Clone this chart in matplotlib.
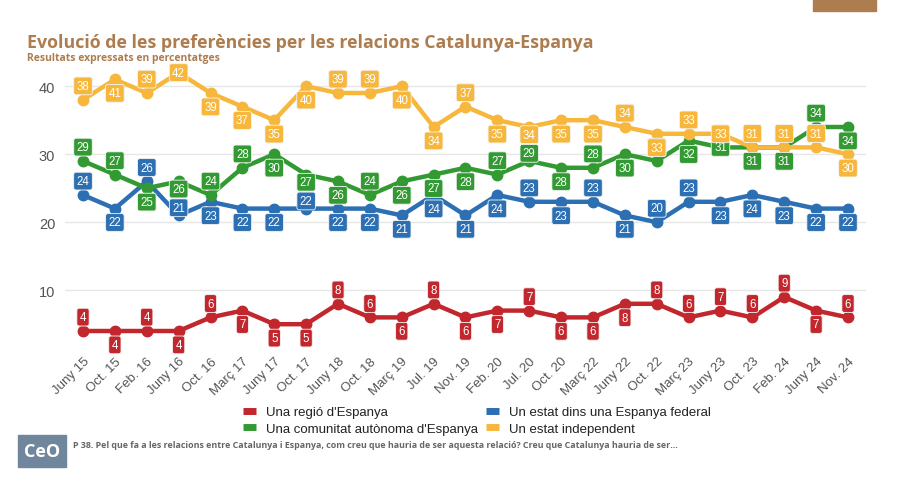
"""Evolució de les preferències per les relacions Catalunya-Espanya."""

import matplotlib
matplotlib.use('Agg')
import matplotlib.pyplot as plt
from matplotlib.lines import Line2D
from matplotlib.patches import Rectangle

# Data
periods = ["Juny 15", "Oct. 15", "Feb. 16", "Juny 16", "Oct. 16", "Març 17", "Juny 17",
           "Oct. 17", "Juny 18", "Oct. 18", "Març 19", "Jul. 19", "Nov. 19", "Feb. 20",
           "Jul. 20", "Oct. 20", "Març 22", "Juny 22", "Oct. 22", "Març 23", "Juny 23",
           "Oct. 23", "Feb. 24", "Juny 24", "Nov. 24"]
regio = [4, 4, 4, 4, 6, 7, 5, 5, 8, 6, 6, 8, 6, 7, 7, 6, 6, 8, 8, 6, 7, 6, 9, 7, 6]
comunitat = [29, 27, 25, 26, 24, 28, 30, 27, 26, 24, 26, 27, 28, 27, 29, 28, 28, 30, 29,
             32, 31, 31, 31, 34, 34]
federal = [24, 22, 26, 21, 23, 22, 22, 22, 22, 22, 21, 24, 21, 24, 23, 23, 23, 21, 20,
           23, 23, 24, 23, 22, 22]
independent = [38, 41, 39, 42, 39, 37, 35, 40, 39, 39, 40, 34, 37, 35, 34, 35, 35, 34, 33,
               33, 33, 31, 31, 31, 30]

# Label placement: u/d = above/below, n/m = closer above/below, c = on the point
regio_side = "u d u d u  d d d u u  d u d d u  d d d u u  u u u d u".split()
comunitat_side = "u u d m u  u d m d u  d d d u n  d u d u d  c d d u d".split()
federal_side = "u d u n d  d d n d d  d d d d u  d u d u u  d d d d d".split()
independent_side = "u d u c d  d d d u u  d d u d m  d d u d u  c u u u d".split()
LABEL_OFFSET = {"u": 10, "d": -10, "n": 5.5, "m": -5.5, "c": 0}

COLORS = {
    "regio": "#c1272d",
    "comunitat": "#339a33",
    "federal": "#2c6fb2",
    "independent": "#f6b73c",
    "grid": "#e6e6e6",
    "text": "#555555",
    "brown": "#ad7c4f",
}

fig = plt.figure(figsize=(9, 4.85), dpi=100)
ax = fig.add_axes([65 / 900, 1 - 349 / 485, 801 / 900, 285.6 / 485])

x = list(range(len(periods)))
series = [
    (regio, COLORS["regio"], regio_side),
    (federal, COLORS["federal"], federal_side),
    (comunitat, COLORS["comunitat"], comunitat_side),
    (independent, COLORS["independent"], independent_side),
]

for values, color, sides in series:
    ax.plot(x, values, color=color, lw=3.2, marker='o', ms=7.5, zorder=3)
for values, color, sides in series:
    for i, v in enumerate(values):
        ax.annotate(str(v), (i, v), xytext=(0, LABEL_OFFSET[sides[i]]),
                    textcoords='offset points',
                    ha='center', va='center', fontsize=8.3, color='white',
                    family='Liberation Sans', zorder=5,
                    bbox=dict(boxstyle='round,pad=0.25,rounding_size=0.2',
                              fc=color, ec='#f4f4f4', lw=0.6))

ax.set_xlim(-0.565, len(periods) - 1 + 0.565)
ax.set_ylim(1.5, 43.5)
ax.set_yticks([10, 20, 30, 40])
ax.yaxis.grid(True, color=COLORS["grid"], linewidth=1)
ax.set_axisbelow(True)
for spine in ax.spines.values():
    spine.set_visible(False)
ax.tick_params(axis='both', length=0, colors=COLORS["text"])
ax.tick_params(axis='y', labelsize=10.5, pad=7)
ax.set_xticks(x)
ax.set_xticklabels(periods, rotation=45, ha='right', va='top', rotation_mode='anchor',
                   fontsize=9.5, family='Liberation Sans', color=COLORS["text"])
ax.tick_params(axis='x', pad=5)
for lab in ax.get_yticklabels():
    lab.set_family('Liberation Sans')

# Title
fig.text(27 / 900, 1 - 43 / 485, "Evolució de les preferències per les relacions Catalunya-Espanya",
         fontsize=12.8, fontweight='bold', family='Open Sans', color=COLORS["brown"],
         va='center', ha='left')
fig.text(27 / 900, 1 - 58.5 / 485, "Resultats expressats en percentatges",
         fontsize=7.5, fontweight='bold', family='Open Sans', color=COLORS["brown"],
         va='center', ha='left')
fig.patches.append(Rectangle((813 / 900, 1 - 12 / 485), 63 / 900, 12 / 485,
                             transform=fig.transFigure, color=COLORS["brown"]))

# Legend
handles = [Line2D([0], [0], color=COLORS[k], lw=5, solid_capstyle='butt')
           for k in ["regio", "comunitat", "federal", "independent"]]
labels = ["Una regió d'Espanya", "Una comunitat autònoma d'Espanya",
          "Un estat dins una Espanya federal", "Un estat independent"]
fig.legend(handles, labels, ncol=2, loc='upper left', bbox_to_anchor=(243 / 900, 1 - 407 / 485),
           frameon=False, prop={'family': 'Liberation Sans', 'size': 9.5},
           handlelength=1.0, handletextpad=0.75, columnspacing=0.6, labelspacing=0.35,
           borderpad=0, borderaxespad=0, labelcolor='#222222')

# Footer
fig.patches.append(Rectangle((18 / 900, 1 - 468 / 485), 48 / 900, 32 / 485,
                             transform=fig.transFigure, color='#6f869c'))
fig.text(42 / 900, 1 - 452 / 485, "CeO", fontsize=13, fontweight='bold', color='white',
         family='Open Sans', ha='center', va='center')
fig.text(73 / 900, 1 - 446 / 485,
         "P 38. Pel que fa a les relacions entre Catalunya i Espanya, com creu que hauria de ser "
         "aquesta relació? Creu que Catalunya hauria de ser...",
         fontsize=6.4, fontweight='bold', family='Open Sans', color='#666666', va='center')

fig.savefig('out.png', dpi=100, facecolor='white')
